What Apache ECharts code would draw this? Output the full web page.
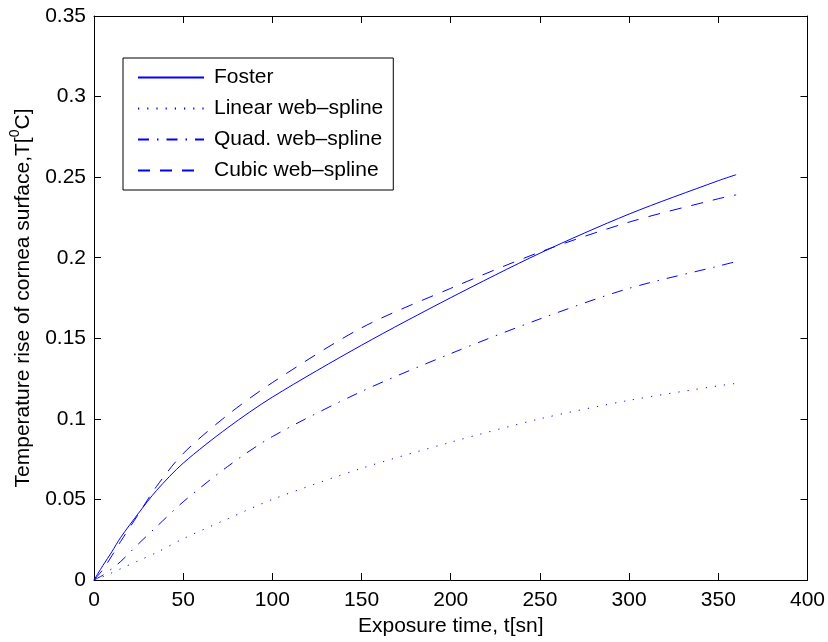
<!DOCTYPE html>
<html>
<head>
<meta charset="utf-8">
<script src="https://cdn.jsdelivr.net/npm/echarts@6/dist/echarts.min.js"></script>
<style>
  html, body { margin: 0; padding: 0; background: #fff; }
  #chart { width: 828px; height: 642px; }
</style>
</head>
<body>
<div id="chart"></div>
<script>
  // exposure time, t[sn]
  const times = [0, 5, 10, 15, 25, 35, 50, 75, 100, 150, 200, 250, 300, 350, 360];

  // temperature rise of cornea surface
  const foster =       [0, 0.009, 0.0175, 0.0265, 0.0415, 0.0555, 0.0725, 0.0945, 0.1135, 0.1457, 0.1752, 0.2028, 0.2271, 0.2478, 0.2515];
  const linearSpline = [0, 0.002, 0.0045, 0.007, 0.012, 0.017, 0.0256, 0.038, 0.050, 0.0693, 0.0855, 0.100, 0.1115, 0.1205, 0.122];
  const quadSpline =   [0, 0.003, 0.007, 0.0115, 0.0225, 0.033, 0.0485, 0.0705, 0.089, 0.117, 0.1405, 0.162, 0.181, 0.1948, 0.1976];
  const cubicSpline =  [0, 0.0065, 0.015, 0.024, 0.041, 0.058, 0.0785, 0.1025, 0.1225, 0.1565, 0.181, 0.2035, 0.2221, 0.2366, 0.239];

  const seriesNames = ['Foster', 'Linear web\u2013spline', 'Quad. web\u2013spline', 'Cubic web\u2013spline'];

  const blue = '#0000ff';
  const font = 'Liberation Sans, Arial, Helvetica, sans-serif';

  function pairs(values) {
    return times.map((t, i) => [t, values[i]]);
  }

  function line(name, values, type) {
    return {
      name: name,
      type: 'line',
      data: pairs(values),
      symbol: 'none',
      smooth: 0.3,
      lineStyle: { color: blue, width: 1, type: type },
      itemStyle: { color: blue }
    };
  }

  const chart = echarts.init(document.getElementById('chart'));

  const tickStyle = { show: true, inside: true, length: 7, lineStyle: { color: '#000', width: 1 } };
  const axisLineStyle = { show: true, onZero: false, lineStyle: { color: '#000', width: 1 } };

  chart.setOption({
    animation: false,
    backgroundColor: '#fff',
    textStyle: { fontFamily: font },
    grid: { left: 93, right: 18, top: 16, bottom: 61, containLabel: false },
    legend: {
      orient: 'vertical',
      left: 123,
      top: 58,
      data: seriesNames,
      itemWidth: 66,
      itemHeight: 20,
      itemGap: 10,
      padding: [9, 10, 9, 14],
      backgroundColor: '#fff',
      borderColor: '#000',
      borderWidth: 1,
      borderRadius: 0,
      itemStyle: { opacity: 0 },
      textStyle: { fontFamily: font, fontSize: 21, color: '#000', padding: [0, 0, 0, 5] }
    },
    xAxis: [
      {
        type: 'value', min: 0, max: 400, interval: 50,
        name: 'Exposure time, t[sn]', nameLocation: 'middle', nameGap: 36,
        nameTextStyle: { fontFamily: font, fontSize: 21, color: '#000' },
        axisLine: axisLineStyle,
        axisTick: tickStyle,
        axisLabel: { fontFamily: font, fontSize: 21, color: '#000', margin: 10 },
        splitLine: { show: false }
      },
      {
        type: 'value', min: 0, max: 400, interval: 50, position: 'top',
        axisLine: axisLineStyle,
        axisTick: tickStyle,
        axisLabel: { show: false },
        splitLine: { show: false }
      }
    ],
    yAxis: [
      {
        type: 'value', min: 0, max: 0.35, interval: 0.05,
        name: '{t|Temperature rise of cornea surface,T[}{s|0}{t|C]}',
        nameLocation: 'middle', nameGap: 60,
        nameTextStyle: {
          fontFamily: font, color: '#000',
          rich: {
            t: { fontFamily: font, fontSize: 21, color: '#000', lineHeight: 26, verticalAlign: 'bottom' },
            s: { fontFamily: font, fontSize: 14, color: '#000', lineHeight: 26, verticalAlign: 'top' }
          }
        },
        axisLine: axisLineStyle,
        axisTick: tickStyle,
        axisLabel: {
          fontFamily: font, fontSize: 21, color: '#000', margin: 8,
          formatter: (v) => String(Math.round(v * 100) / 100)
        },
        splitLine: { show: false }
      },
      {
        type: 'value', min: 0, max: 0.35, interval: 0.05, position: 'right',
        axisLine: axisLineStyle,
        axisTick: tickStyle,
        axisLabel: { show: false },
        splitLine: { show: false }
      }
    ],
    series: [
      line(seriesNames[0], foster, 'solid'),
      line(seriesNames[1], linearSpline, [1.2, 8]),
      line(seriesNames[2], quadSpline, [11, 8, 1.5, 8]),
      line(seriesNames[3], cubicSpline, [12, 10])
    ]
  });
</script>
</body>
</html>
